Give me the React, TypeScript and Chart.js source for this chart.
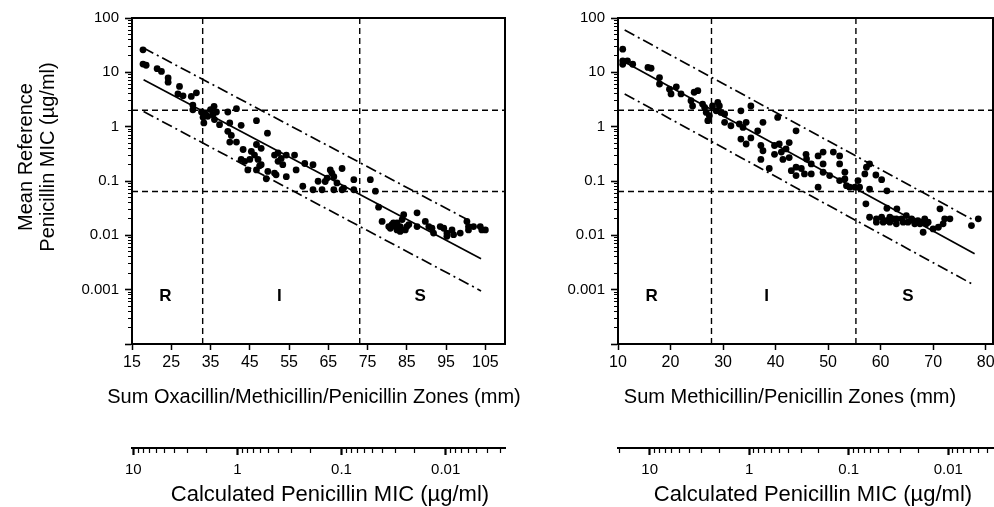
import React, { useEffect, useRef } from 'react';
import { Chart, registerables } from 'chart.js';

Chart.register(...registerables);

// ---------- Left panel: sum of oxacillin/methicillin/penicillin zones (mm) vs MIC ----------
const leftZone = [
  17.8, 17.8, 18.6, 21.4, 22.5, 24.2, 24.2, 27.1, 26.7, 28.0, 30.1, 31.4, 30.5, 30.5,
  32.7, 33.7, 35.0, 35.9, 35.6, 36.5, 33.1, 34.3, 33.3, 36.0, 37.3, 39.4, 41.6, 39.9,
  42.8, 39.4, 40.3, 39.9, 41.6, 46.7, 49.5, 43.3, 45.4, 46.7, 47.9, 46.2, 47.1, 45.0,
  47.9, 44.5, 47.5, 46.7, 49.6, 51.3, 52.2, 53.0, 54.3, 52.2, 53.4, 51.3, 49.2, 51.7,
  54.3, 56.4, 56.8, 59.0, 61.1, 58.5, 61.1, 62.4, 42.8, 43.7,
  65.5, 65.9, 68.5, 64.7, 64.2, 66.4, 67.2, 63.4, 66.4, 68.5, 68.9, 71.5, 71.5, 75.7,
  77.0, 77.8, 78.7, 80.4, 81.2, 82.1, 82.5, 83.3, 84.2, 83.8, 84.6, 85.0, 87.6, 87.6,
  89.7, 90.6, 91.4, 91.8, 93.5, 94.4, 95.2, 96.5, 95.2, 96.9, 98.6, 100.3, 100.7, 100.7,
  102.0, 103.7, 105.0, 104.1, 80.8, 82.5, 81.6, 83.3, 85.5,
];
const leftMic = [
  26, 14.2, 13.5, 11.7, 10.4, 7.9, 6.6, 5.5, 4.0, 3.7, 3.6, 4.2, 2.5, 2.05,
  1.86, 1.71, 2.06, 2.37, 1.66, 1.86, 1.49, 1.55, 1.17, 1.35, 1.09, 1.86, 2.14, 1.17,
  1.06, 0.82, 0.69, 0.52, 0.52, 1.29, 0.76, 0.38, 0.35, 0.47, 0.40, 0.30, 0.25, 0.25,
  0.20, 0.16, 0.19, 0.16, 0.15, 0.30, 0.33, 0.26, 0.30, 0.23, 0.20, 0.14, 0.11, 0.13,
  0.12, 0.30, 0.16, 0.21, 0.20, 0.080, 0.069, 0.099, 0.25, 0.23,
  0.16, 0.14, 0.17, 0.113, 0.098, 0.12, 0.092, 0.069, 0.069, 0.069, 0.074, 0.106, 0.069, 0.106,
  0.065, 0.033, 0.018, 0.0145, 0.0158, 0.0145, 0.017, 0.0145, 0.024, 0.0195, 0.0126, 0.0145, 0.026, 0.0145,
  0.018, 0.0145, 0.0135, 0.011, 0.0145, 0.0135, 0.011, 0.0126, 0.0096, 0.0103, 0.011, 0.018, 0.0145, 0.0126,
  0.0145, 0.0145, 0.0126, 0.0126, 0.0135, 0.0126, 0.017, 0.0118, 0.0158,
];

// ---------- Right panel: sum of methicillin/penicillin zones (mm) vs MIC ----------
const rightZone = [
  10.9, 10.9, 10.9, 11.8, 12.8, 15.7, 16.3, 17.9, 17.9, 19.8, 20.1, 21.1, 22.0, 24.5,
  25.2, 23.9, 24.2, 26.1, 26.5, 26.8, 27.1, 27.4, 28.0, 28.7, 29.0, 29.3, 29.6, 30.3,
  30.3, 31.5, 33.4, 33.1, 33.8, 34.4, 35.3, 33.4, 34.4, 35.3, 36.6, 37.6, 37.2, 37.6,
  37.2, 38.8, 39.8, 39.8, 40.7, 41.1, 41.4, 42.0, 42.6, 42.6, 43.0, 43.9, 43.9, 43.9,
  44.9, 45.8, 45.5, 40.4,
  45.9, 46.8, 46.8, 48.1, 49.05, 49.05, 49.05, 50.3, 51.0, 52.2, 52.2, 52.2, 53.2, 53.2,
  53.5, 54.1, 48.1, 55.1, 55.7, 56.0, 57.0, 57.3, 57.9, 57.9, 59.1, 60.2, 61.2, 57.2,
  61.2, 63.1,
  57.9, 59.2, 59.2, 60.2, 61.1, 61.75, 62.4, 63.0, 64.0, 64.9, 65.2, 65.9, 66.5, 67.1,
  67.8, 68.4, 69.05, 68.1, 70.0, 71.0, 71.9, 72.2, 73.2, 71.3, 77.3, 78.6,
  60.5, 63.0, 64.3, 66.2, 67.5, 68.7, 61.75,
];
const rightMic = [
  26.7, 16.3, 14.1, 16.3, 14.1, 12.3, 11.9, 8.0, 6.1, 4.9, 4.0, 5.4, 4.0, 4.3,
  4.6, 3.0, 2.4, 2.6, 2.26, 1.83, 1.29, 1.59, 2.4, 1.96, 2.8, 2.4, 1.83, 1.71,
  1.2, 1.04, 1.96, 1.12, 0.97, 1.2, 2.4, 0.59, 0.48, 0.62, 0.84, 1.2, 0.45, 0.36,
  0.25, 0.17, 0.45, 0.31, 0.48, 0.34, 0.25, 0.39, 0.51, 0.27, 0.155, 0.84, 0.18, 0.126,
  0.17, 0.31, 0.135, 1.48,
  0.254, 0.206, 0.135, 0.29, 0.34, 0.206, 0.145, 0.126, 0.34, 0.29, 0.206, 0.102, 0.145, 0.109,
  0.082, 0.077, 0.077, 0.077, 0.102, 0.077, 0.135, 0.179, 0.206, 0.071, 0.129, 0.106, 0.066, 0.038,
  0.0315, 0.0307,
  0.0215, 0.0201, 0.0175, 0.0215, 0.0187, 0.0175, 0.0201, 0.0163, 0.0201, 0.0231, 0.0175, 0.0201, 0.0163, 0.0187,
  0.0175, 0.0201, 0.0175, 0.0114, 0.0131, 0.0141, 0.0163, 0.0201, 0.0201, 0.0307, 0.0151, 0.0201,
  0.0175, 0.0201, 0.0175, 0.0187, 0.0163, 0.0163, 0.0215,
];

// Regression line and +/- limits (end points)
const leftFitZone = [17.95, 103.9];
const leftFitMic = [7.3, 0.0037];
const leftUpperZone = [17.95, 101.2];
const leftUpperMic = [28, 0.0182];
const leftLowerZone = [17.95, 103.9];
const leftLowerMic = [1.9, 0.00095];

const rightFitZone = [11.27, 77.9];
const rightFitMic = [15.5, 0.0046];
const rightUpperZone = [11.27, 77.9];
const rightUpperMic = [60, 0.0186];
const rightLowerZone = [11.27, 77.9];
const rightLowerMic = [4.0, 0.0012];

// Breakpoints
const micBreakpoints = [2, 0.064];
const leftZoneBreakpoints = [33, 73];
const rightZoneBreakpoints = [27.8, 55.3];

// Category letters
const categories = ['R', 'I', 'S'];
const leftCategoryZone = [23.5, 52.5, 88.4];
const rightCategoryZone = [16.4, 38.3, 65.2];
const categoryMic = 0.00077;

// Ticks
const micTickValues = [100, 10, 1, 0.1, 0.01, 0.001];
const micTickLabels = ['100', '10', '1', '0.1', '0.01', '0.001'];
const leftZoneTicks = [15, 25, 35, 45, 55, 65, 75, 85, 95, 105];
const rightZoneTicks = [10, 20, 30, 40, 50, 60, 70, 80];
const calcTickValues = [10, 1, 0.1, 0.01];
const calcTickLabels = ['10', '1', '0.1', '0.01'];

const yTitleLines = ['Mean Reference', 'Penicillin MIC (\u00b5g/ml)'];
const leftXTitle = 'Sum Oxacillin/Methicillin/Penicillin Zones (mm)';
const rightXTitle = 'Sum Methicillin/Penicillin Zones (mm)';
const calcTitle = 'Calculated Penicillin MIC (\u00b5g/ml)';

const Y_MIN = 0.0001;
const Y_MAX = 100;

const SANS = '"Liberation Sans", Arial, Helvetica, sans-serif';
const BLACK = '#000';

function logTickValues(min: number, max: number): number[] {
  const out: number[] = [];
  for (let e = -5; e <= 3; e++) {
    for (let m = 1; m <= 9; m++) {
      const v = Number((m * Math.pow(10, e)).toPrecision(6));
      if (v >= min * (1 - 1e-9) && v <= max * (1 + 1e-9)) out.push(v);
    }
  }
  return out;
}
const isDecade = (v: number) => Math.abs(Math.log10(v) - Math.round(Math.log10(v))) < 1e-6;
const labelFor = (v: number, values: number[], labels: string[]) => {
  const i = values.findIndex((t) => Math.abs(t - v) <= Math.abs(t) * 1e-6);
  return i >= 0 ? labels[i] : '';
};
const pts = (xs: number[], ys: number[]) => xs.map((x, i) => ({ x, y: ys[i] }));

type PanelSpec = {
  zone: number[];
  mic: number[];
  fitZone: number[];
  fitMic: number[];
  upperZone: number[];
  upperMic: number[];
  lowerZone: number[];
  lowerMic: number[];
  zoneBreaks: number[];
  catZone: number[];
  xMin: number;
  xMax: number;
  xTicks: number[];
  calcMin: number;
  calcMax: number;
  yAxisWidth: number;
  padRight: number;
  xTitle: string;
  xTitleCenter: number;
  calcTitleCenter: number;
  showYTitle: boolean;
};

function buildConfig(spec: PanelSpec): any {
  const lineDs = (data: any[], dash: number[], width = 1.5) => ({
    data,
    showLine: true,
    borderColor: BLACK,
    borderWidth: width,
    borderDash: dash,
    pointRadius: 0,
    fill: false,
    xAxisID: 'x',
    yAxisID: 'y',
  });

  const datasets: any[] = [];
  spec.zoneBreaks.forEach((z) => {
    datasets.push(lineDs([{ x: z, y: Y_MIN }, { x: z, y: Y_MAX }], [6, 4], 1.4));
  });
  micBreakpoints.forEach((m) => {
    datasets.push(lineDs([{ x: spec.xMin, y: m }, { x: spec.xMax, y: m }], [6, 4], 1.4));
  });
  datasets.push(lineDs(pts(spec.fitZone, spec.fitMic), [], 1.7));
  datasets.push(lineDs(pts(spec.upperZone, spec.upperMic), [11, 4, 2, 4], 1.7));
  datasets.push(lineDs(pts(spec.lowerZone, spec.lowerMic), [11, 4, 2, 4], 1.7));
  datasets.push({
    data: pts(spec.zone, spec.mic),
    showLine: false,
    pointRadius: 3.4,
    pointBackgroundColor: BLACK,
    pointBorderWidth: 0,
    xAxisID: 'x',
    yAxisID: 'y',
  });

  const yTicks = logTickValues(Y_MIN, Y_MAX);
  const calcTicks = logTickValues(spec.calcMin, spec.calcMax);

  const framePlugin = {
    id: 'frame',
    afterDatasetsDraw(chart: any) {
      const { ctx, chartArea: a } = chart;
      ctx.save();
      ctx.strokeStyle = BLACK;
      ctx.lineWidth = 2;
      ctx.strokeRect(a.left, a.top, a.right - a.left, a.bottom - a.top);
      ctx.restore();
    },
  };

  const textPlugin = {
    id: 'texts',
    afterDraw(chart: any) {
      const { ctx } = chart;
      const xs = chart.scales.x;
      const ys = chart.scales.y;
      ctx.save();
      ctx.fillStyle = BLACK;
      ctx.textAlign = 'center';
      ctx.textBaseline = 'middle';
      ctx.font = `bold 17px ${SANS}`;
      categories.forEach((c, i) => {
        ctx.fillText(c, xs.getPixelForValue(spec.catZone[i]), ys.getPixelForValue(categoryMic));
      });
      ctx.font = `20px ${SANS}`;
      ctx.fillText(spec.xTitle, spec.xTitleCenter, 397);
      ctx.font = `22px ${SANS}`;
      ctx.fillText(calcTitle, spec.calcTitleCenter, 495);
      if (spec.showYTitle) {
        ctx.font = `20px ${SANS}`;
        yTitleLines.forEach((line, i) => {
          ctx.save();
          ctx.translate(26 + i * 22, 157);
          ctx.rotate(-Math.PI / 2);
          ctx.fillText(line, 0, 0);
          ctx.restore();
        });
      }
      ctx.restore();
    },
  };

  return {
    type: 'scatter',
    data: { datasets },
    plugins: [framePlugin, textPlugin],
    options: {
      animation: false,
      responsive: false,
      maintainAspectRatio: false,
      events: [],
      layout: { padding: { top: 18, right: spec.padRight, left: 0, bottom: 0 } },
      plugins: {
        legend: { display: false },
        tooltip: { enabled: false },
        title: { display: false },
      },
      scales: {
        x: {
          type: 'linear',
          position: 'bottom',
          weight: 0,
          min: spec.xMin,
          max: spec.xMax,
          afterBuildTicks: (s: any) => {
            s.ticks = spec.xTicks.map((v) => ({ value: v }));
          },
          afterFit: (s: any) => {
            s.height = 104;
          },
          ticks: {
            autoSkip: false,
            maxRotation: 0,
            color: BLACK,
            padding: 3,
            font: { family: SANS, size: 16 },
            callback: (v: any) => String(v),
          },
          grid: { drawOnChartArea: false, tickLength: 6, tickColor: BLACK, tickWidth: 1.5 },
          border: { display: true, color: BLACK, width: 2 },
        },
        calc: {
          axis: 'x',
          type: 'logarithmic',
          position: 'bottom',
          weight: 1,
          reverse: true,
          min: spec.calcMin,
          max: spec.calcMax,
          afterBuildTicks: (s: any) => {
            s.ticks = calcTicks.map((v) => ({ value: v }));
          },
          afterFit: (s: any) => {
            s.height = 59;
          },
          ticks: {
            autoSkip: false,
            maxRotation: 0,
            color: BLACK,
            padding: 6,
            font: { family: SANS, size: 15 },
            callback: (v: any) => labelFor(Number(v), calcTickValues, calcTickLabels),
          },
          grid: {
            drawOnChartArea: false,
            tickLength: 7,
            tickColor: BLACK,
            tickWidth: (c: any) => (c.tick && isDecade(c.tick.value) ? 2.2 : 1.2),
            tickBorderDash: (c: any) => (c.tick && isDecade(c.tick.value) ? [] : [4, 30]),
          },
          border: { display: true, color: BLACK, width: 2 },
        },
        y: {
          type: 'logarithmic',
          position: 'left',
          min: Y_MIN,
          max: Y_MAX,
          afterBuildTicks: (s: any) => {
            s.ticks = yTicks.map((v) => ({ value: v }));
          },
          afterFit: (s: any) => {
            s.width = spec.yAxisWidth;
          },
          ticks: {
            autoSkip: false,
            color: BLACK,
            padding: 6,
            font: { family: SANS, size: 15 },
            callback: (v: any) => labelFor(Number(v), micTickValues, micTickLabels),
          },
          grid: {
            drawOnChartArea: false,
            tickLength: 7,
            tickColor: BLACK,
            tickWidth: (c: any) => (c.tick && isDecade(c.tick.value) ? 1.6 : 1),
            tickBorderDash: (c: any) => (c.tick && isDecade(c.tick.value) ? [] : [0, 3, 3, 30]),
          },
          border: { display: true, color: BLACK, width: 2 },
        },
      },
    },
  };
}

const leftSpec: PanelSpec = {
  zone: leftZone,
  mic: leftMic,
  fitZone: leftFitZone,
  fitMic: leftFitMic,
  upperZone: leftUpperZone,
  upperMic: leftUpperMic,
  lowerZone: leftLowerZone,
  lowerMic: leftLowerMic,
  zoneBreaks: leftZoneBreakpoints,
  catZone: leftCategoryZone,
  xMin: 15,
  xMax: 110,
  xTicks: leftZoneTicks,
  calcMin: 0.00269,
  calcMax: 10.29,
  yAxisWidth: 132,
  padRight: 40,
  xTitle: leftXTitle,
  xTitleCenter: 314,
  calcTitleCenter: 330,
  showYTitle: true,
};

const rightSpec: PanelSpec = {
  zone: rightZone,
  mic: rightMic,
  fitZone: rightFitZone,
  fitMic: rightFitMic,
  upperZone: rightUpperZone,
  upperMic: rightUpperMic,
  lowerZone: rightLowerZone,
  lowerMic: rightLowerMic,
  zoneBreaks: rightZoneBreakpoints,
  catZone: rightCategoryZone,
  xMin: 10,
  xMax: 81.4,
  xTicks: rightZoneTicks,
  calcMin: 0.00355,
  calcMax: 20.8,
  yAxisWidth: 73,
  padRight: 12,
  xTitle: rightXTitle,
  xTitleCenter: 245,
  calcTitleCenter: 268,
  showYTitle: false,
};

function Panel({ spec, left, width }: { spec: PanelSpec; left: number; width: number }) {
  const ref = useRef<HTMLCanvasElement | null>(null);
  useEffect(() => {
    if (!ref.current) return;
    const chart = new Chart(ref.current, buildConfig(spec));
    return () => chart.destroy();
  }, [spec]);
  return (
    <canvas
      ref={ref}
      width={width}
      height={507}
      style={{ position: 'absolute', left, top: 0, width, height: 507, display: 'block' }}
    />
  );
}

export default function App() {
  return (
    <div
      style={{
        position: 'absolute',
        left: 0,
        top: 0,
        width: 994,
        height: 507,
        overflow: 'hidden',
        background: '#fff',
      }}
    >
      <Panel spec={leftSpec} left={0} width={545} />
      <Panel spec={rightSpec} left={545} width={460} />
    </div>
  );
}
